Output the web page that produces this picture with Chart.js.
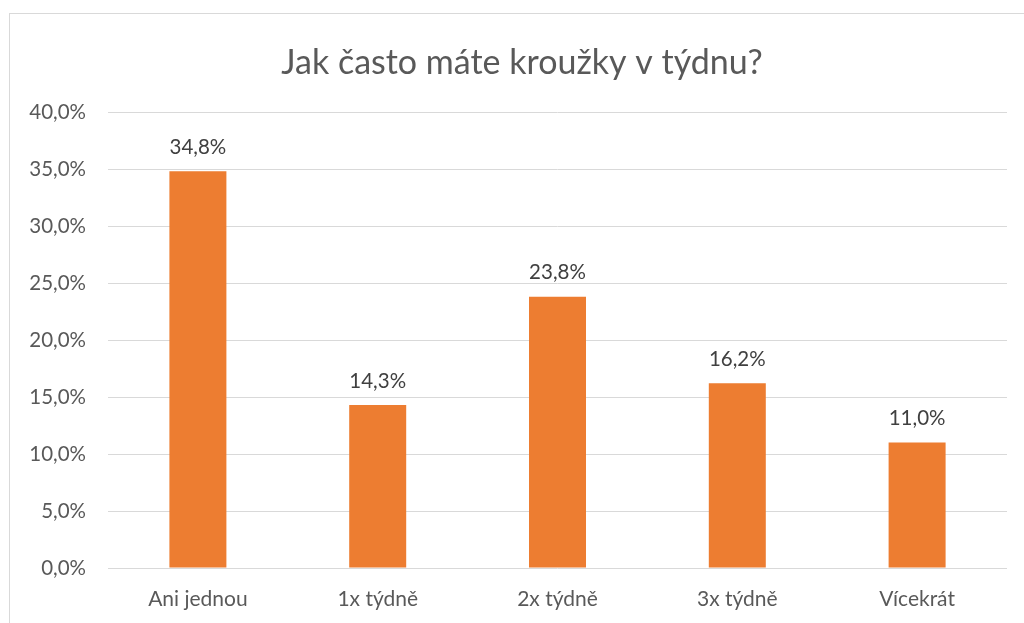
<!DOCTYPE html>
<html>
<head>
<meta charset="utf-8">
<script src="https://cdn.jsdelivr.net/npm/chart.js@4"></script>
<style>
  html, body { margin: 0; padding: 0; background: #fff; }
  .frame {
    position: absolute; left: 9px; top: 13px; width: 1100px; height: 700px;
    border-left: 1px solid #d9d9d9; border-top: 1px solid #d9d9d9;
  }
  .wrap { position: absolute; left: 0; top: 0; width: 1024px; height: 623px; }
</style>
</head>
<body>
<div class="frame"></div>
<div class="wrap"><canvas id="chart" width="1024" height="623"></canvas></div>
<script>
const categories = ["Ani jednou", "1x týdně", "2x týdně", "3x týdně", "Vícekrát"];
const values = [34.8, 14.3, 23.8, 16.2, 11.0];
const yTicks = [0, 5, 10, 15, 20, 25, 30, 35, 40];
const chartTitle = "Jak často máte kroužky v týdnu?";

const FONT = "Lato, 'Open Sans', sans-serif";
const fmt = (v) => v.toFixed(1).replace(".", ",") + "%";

// labels above each bar + title centred on the frame
const barLabels = {
  id: "barLabels",
  afterDatasetsDraw(chart) {
    const { ctx } = chart;
    const meta = chart.getDatasetMeta(0);
    ctx.save();
    ctx.font = "20.5px " + FONT;
    ctx.fillStyle = "#404040";
    ctx.textAlign = "center";
    ctx.textBaseline = "middle";
    meta.data.forEach((bar, i) => {
      ctx.fillText(fmt(values[i]), bar.x, bar.y - 24);
    });
    ctx.font = "34px " + FONT;
    ctx.fillStyle = "#595959";
    ctx.fillText(chartTitle, 522, 63);
    ctx.restore();
  },
};

new Chart(document.getElementById("chart"), {
  type: "bar",
  data: {
    labels: categories,
    datasets: [
      {
        data: values,
        backgroundColor: "#ED7D31",
        hoverBackgroundColor: "#ED7D31",
        categoryPercentage: 1,
        barPercentage: 0.317,
      },
    ],
  },
  options: {
    responsive: false,
    animation: false,
    layout: { padding: { left: 0, right: 17, top: 112, bottom: 0 } },
    scales: {
      x: {
        grid: { display: false, drawTicks: false },
        border: { display: false },
        ticks: {
          padding: 19,
          color: "#595959",
          font: { size: 21, family: FONT },
        },
        afterFit(scale) {
          scale.height = 55;
        },
      },
      y: {
        min: 0,
        max: 40,
        afterBuildTicks(scale) {
          scale.ticks = yTicks.map((v) => ({ value: v }));
        },
        grid: { color: "#d9d9d9", drawTicks: false },
        border: { display: false },
        ticks: {
          padding: 22,
          color: "#595959",
          font: { size: 20.5, family: FONT },
          callback: (v) => fmt(v),
        },
        afterFit(scale) {
          scale.width = 108;
        },
      },
    },
    plugins: {
      legend: { display: false },
      tooltip: { enabled: false },
      title: { display: false },
    },
  },
  plugins: [barLabels],
});
</script>
</body>
</html>
